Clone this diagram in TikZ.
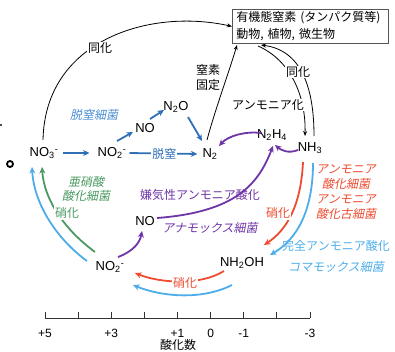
\documentclass[tikz,border=0pt]{standalone}
\usepackage{fontspec}
\setmainfont{Noto Sans CJK JP}
\newfontfamily\lat{Liberation Sans}
\newfontfamily\jit[FakeSlant=0.2]{Noto Sans CJK JP}
\usetikzlibrary{arrows.meta,calc}
\definecolor{dblue}{HTML}{2E6FB5}
\definecolor{lblue}{HTML}{4A8ED2}
\definecolor{purp}{HTML}{6E35A6}
\definecolor{redo}{HTML}{EE4B30}
\definecolor{sky}{HTML}{4DADEA}
\definecolor{grn}{HTML}{4A9A62}
\definecolor{boxgray}{HTML}{555555}
\begin{document}
\begin{tikzpicture}[x=1pt,y=-1pt,
  chem/.style={font=\lat\fontsize{13}{15}\selectfont, inner sep=1pt},
  jp/.style={font=\fontsize{12}{14}\selectfont, inner sep=1pt},
  jpit/.style={font=\jit\fontsize{12}{14}\selectfont, inner sep=1pt},
  lab/.style={jp, fill=white},
  blk/.style={draw=black, line width=0.8pt, -{Stealth[length=5pt,width=4pt]}},
  col/.style={line width=1.8pt, -{Stealth[length=6.5pt,width=6pt]}},
  axlab/.style={font=\lat\fontsize{12}{14}\selectfont, inner sep=1pt}
]
\useasboundingbox (0,0) rectangle (395,351);

% stray marks at left edge
\draw[line width=1.8pt] (10,164) circle (3);
\fill[black!70] (0,124) rectangle (1.5,126);

% box
\node[draw=boxgray, line width=0.8pt, anchor=north west, minimum width=156pt, minimum height=34pt,
      inner xsep=4pt, inner ysep=2pt, align=left, font=\fontsize{12}{17}\selectfont, text width=148pt]
  (box) at (232,9) {有機態窒素 (タンパク質等)\\動物, 植物, 微生物};
\coordinate (bfix) at (237,45);
\coordinate (bamm) at (258,46);
\coordinate (bass) at (261,45);

% chemical nodes
\node[chem] (no3) at (44,153) {NO\textsubscript{3}\textsuperscript{-}};
\node[chem] (no2u) at (112,153) {NO\textsubscript{2}\textsuperscript{-}};
\node[chem] (no) at (145,128) {NO};
\node[chem] (n2o) at (176,107) {N\textsubscript{2}O};
\node[chem] (n2) at (210,154) {N\textsubscript{2}};
\node[chem] (n2h4) at (272,135) {N\textsubscript{2}H\textsubscript{4}};
\node[chem] (nh3) at (310,148) {NH\textsubscript{3}};
\node[chem] (nol) at (145,221) {NO};
\node[chem] (no2l) at (110,267) {NO\textsubscript{2}\textsuperscript{-}};
\node[chem] (nh2oh) at (242,263) {NH\textsubscript{2}OH};

% black arrows
\draw[blk] (43,140) .. controls (45,40) and (150,8) .. (box.west);
\node[lab] (ldoka1) at (100,48) {同化};
\draw[blk] (207,140) .. controls (215,110) and (228,75) .. (bfix);
\node[jp, align=center, font=\fontsize{12}{15}\selectfont] (lfix) at (208,77) {窒素\\固定};
\draw[blk] (bamm) .. controls (290,60) and (306,95) .. (305,136);
\node[lab] (lammon) at (268,105) {アンモニア化};
\draw[blk] (314,136) .. controls (314,85) and (300,50) .. (bass);
\node[lab] (ldoka2) at (298,72) {同化};

% denitrification
\draw[col, dblue, shorten <=4pt, shorten >=7pt] (no3) -- (no2u);
\draw[col, dblue, shorten <=2pt, shorten >=4pt] (no2u.east) -- node[lab, text=dblue] (ldatsu) {脱窒} (n2.west);
\draw[col, dblue] (117,141) -- (133,132);
\draw[col, dblue] (150,119) -- (164,110);
\draw[col, dblue] (188,117) -- (202,141);
\node[jpit, text=lblue] (ldatsub) at (94,115) {脱窒細菌};

% purple anammox
\draw[col, purp] (298,150) .. controls (288,154) and (281,150) .. (275,145);
\draw[col, purp] (261,133) .. controls (245,131) and (228,136) .. (219,146);
\draw[col, purp] (157,218) .. controls (235,212) and (258,185) .. (273,146);
\draw[col, purp] (118,257) .. controls (134,251) and (140,242) .. (142,231);
\node[jp, text=purp] (lanam) at (200,195) {嫌気性アンモニア酸化};
\node[jpit, text=purp] (lanab) at (210,228) {アナモックス細菌};

% red nitrification
\draw[col, redo] (303,162) .. controls (301,205) and (287,230) .. (264,245);
\node[lab, text=redo] (lsho1) at (278,213) {硝化};
\draw[col, redo] (224,271) .. controls (200,286) and (160,283) .. (135,273);
\node[lab, text=redo] (lsho2) at (185,283) {硝化};
\node[jpit, text=redo, align=center, font=\jit\fontsize{12}{15}\selectfont] (lbact) at (346,192) {アンモニア\\酸化細菌\\アンモニア\\酸化古細菌};

% green
\draw[col, grn] (95,252) .. controls (65,230) and (44,200) .. (42,167);
\node[lab, text=grn] (lsho3) at (67,213) {硝化};
\node[jpit, text=grn, align=center, font=\jit\fontsize{12}{14}\selectfont] (lnit) at (86,189) {亜硝酸\\酸化細菌};

% sky blue comammox
\draw[col, sky] (313,163) .. controls (313,212) and (296,240) .. (270,255);
\draw[col, sky] (232,285) .. controls (200,301) and (160,296) .. (133,285);
\draw[col, sky] (87,261) .. controls (58,240) and (34,205) .. (32,167);
\node[jp, text=sky] (lcom) at (336,246) {完全アンモニア酸化};
\node[jpit, text=sky] (lcomb) at (336,267) {コマモックス細菌};

% axis
\draw[line width=0.8pt, black!80] (45,318) -- (310,318);
\foreach \i in {0,...,8} {
  \draw[line width=0.8pt, black!80] ({45+\i*33.125},318) -- ({45+\i*33.125},312);
}
\node[axlab] (t5) at (45,333) {+5};
\node[axlab] (t3) at (111.25,333) {+3};
\node[axlab] (t1) at (177.5,333) {+1};
\node[axlab] (t0) at (210.6,333) {0};
\node[axlab] (tm1) at (243.75,333) {-1};
\node[axlab] (tm3) at (310,333) {-3};
\node[jp] (lox) at (178,345) {酸化数};
\end{tikzpicture}
\end{document}
